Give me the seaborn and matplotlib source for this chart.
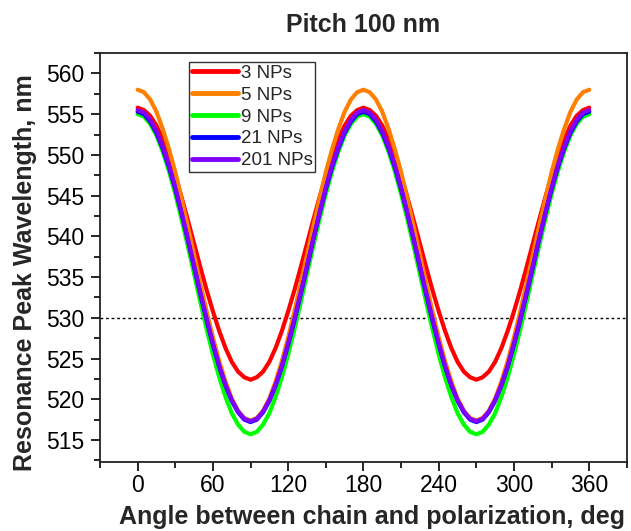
import pandas as pd
import matplotlib
matplotlib.use("Agg")
import matplotlib.pyplot as plt
from matplotlib.ticker import MultipleLocator
import seaborn as sns

# Polarization angle (deg) and resonance peak wavelength (nm) per chain length
angle = list(range(0, 361, 5))

np3 = [555.8, 555.5, 554.8, 553.6, 551.9, 549.8, 547.5, 544.8, 542.0, 539.1, 536.2, 533.4, 530.8, 528.4, 526.3, 524.6, 523.4, 522.7, 522.4,
       522.7, 523.4, 524.6, 526.3, 528.4, 530.8, 533.4, 536.2, 539.1, 542.0, 544.8, 547.5, 549.8, 551.9, 553.6, 554.8, 555.5, 555.8,
       555.5, 554.8, 553.6, 551.9, 549.8, 547.5, 544.8, 542.0, 539.1, 536.2, 533.4, 530.8, 528.4, 526.3, 524.6, 523.4, 522.7, 522.4,
       522.7, 523.4, 524.6, 526.3, 528.4, 530.8, 533.4, 536.2, 539.1, 542.0, 544.8, 547.5, 549.8, 551.9, 553.6, 554.8, 555.5, 555.8]
np5 = [558.0, 557.7, 556.8, 555.3, 553.2, 550.7, 547.9, 544.6, 541.2, 537.7, 534.2, 530.8, 527.6, 524.7, 522.2, 520.1, 518.6, 517.7, 517.4,
       517.7, 518.6, 520.1, 522.2, 524.7, 527.6, 530.8, 534.2, 537.7, 541.2, 544.6, 547.9, 550.7, 553.2, 555.3, 556.8, 557.7, 558.0,
       557.7, 556.8, 555.3, 553.2, 550.7, 547.9, 544.6, 541.2, 537.7, 534.2, 530.8, 527.6, 524.7, 522.2, 520.1, 518.6, 517.7, 517.4,
       517.7, 518.6, 520.1, 522.2, 524.7, 527.6, 530.8, 534.2, 537.7, 541.2, 544.6, 547.9, 550.7, 553.2, 555.3, 556.8, 557.7, 558.0]
np9 = [555.0, 554.7, 553.8, 552.4, 550.4, 548.0, 545.2, 542.1, 538.8, 535.4, 531.9, 528.6, 525.5, 522.7, 520.3, 518.3, 516.9, 516.0, 515.7,
       516.0, 516.9, 518.3, 520.3, 522.7, 525.5, 528.6, 531.9, 535.4, 538.8, 542.1, 545.2, 548.0, 550.4, 552.4, 553.8, 554.7, 555.0,
       554.7, 553.8, 552.4, 550.4, 548.0, 545.2, 542.1, 538.8, 535.4, 531.9, 528.6, 525.5, 522.7, 520.3, 518.3, 516.9, 516.0, 515.7,
       516.0, 516.9, 518.3, 520.3, 522.7, 525.5, 528.6, 531.9, 535.4, 538.8, 542.1, 545.2, 548.0, 550.4, 552.4, 553.8, 554.7, 555.0]
np21 = [555.3, 555.0, 554.1, 552.7, 550.8, 548.5, 545.8, 542.8, 539.6, 536.2, 532.9, 529.7, 526.7, 524.0, 521.7, 519.8, 518.4, 517.5, 517.2,
        517.5, 518.4, 519.8, 521.7, 524.0, 526.7, 529.7, 532.9, 536.2, 539.6, 542.8, 545.8, 548.5, 550.8, 552.7, 554.1, 555.0, 555.3,
        555.0, 554.1, 552.7, 550.8, 548.5, 545.8, 542.8, 539.6, 536.2, 532.9, 529.7, 526.7, 524.0, 521.7, 519.8, 518.4, 517.5, 517.2,
        517.5, 518.4, 519.8, 521.7, 524.0, 526.7, 529.7, 532.9, 536.2, 539.6, 542.8, 545.8, 548.5, 550.8, 552.7, 554.1, 555.0, 555.3]
np201 = [555.5, 555.2, 554.3, 552.9, 551.0, 548.7, 546.0, 542.9, 539.7, 536.4, 533.1, 529.9, 526.9, 524.1, 521.8, 519.9, 518.5, 517.6, 517.3,
         517.6, 518.5, 519.9, 521.8, 524.1, 526.9, 529.9, 533.1, 536.4, 539.7, 542.9, 546.0, 548.7, 551.0, 552.9, 554.3, 555.2, 555.5,
         555.2, 554.3, 552.9, 551.0, 548.7, 546.0, 542.9, 539.7, 536.4, 533.1, 529.9, 526.9, 524.1, 521.8, 519.9, 518.5, 517.6, 517.3,
         517.6, 518.5, 519.9, 521.8, 524.1, 526.9, 529.9, 533.1, 536.4, 539.7, 542.9, 546.0, 548.7, 551.0, 552.9, 554.3, 555.2, 555.5]

labels = ["3 NPs", "5 NPs", "9 NPs", "21 NPs", "201 NPs"]
colors = ["#FF0000", "#FF8000", "#00FF00", "#0000FF", "#8000FF"]
reference_level = 530

frames = []
for lab, vals in zip(labels, [np3, np5, np9, np21, np201]):
    frames.append(pd.DataFrame({"angle": angle, "wl": vals, "chain": lab}))
df = pd.concat(frames, ignore_index=True)

sns.set_style("white")
plt.rcParams["font.family"] = ["Liberation Sans", "DejaVu Sans"]

fig = plt.figure(figsize=(6.31, 5.31), dpi=100)
ax = fig.add_axes([0.1585, 0.130, 0.835, 0.770])

sns.lineplot(data=df, x="angle", y="wl", hue="chain", hue_order=labels,
             palette=colors, linewidth=3, ax=ax, legend=True)

ax.axhline(reference_level, color="black", linestyle=(0, (2, 2)), linewidth=1, zorder=1)

ax.set_xlim(-30, 390)
ax.set_ylim(512.3, 562.5)
ax.xaxis.set_major_locator(MultipleLocator(60))
ax.xaxis.set_minor_locator(MultipleLocator(30))
ax.yaxis.set_major_locator(MultipleLocator(5))
ax.yaxis.set_minor_locator(MultipleLocator(2.5))
ax.tick_params(axis="both", which="major", direction="out", length=6.5, width=1.2,
               labelsize=16.5, bottom=True, left=True, top=False, right=False,
               colors="black")
ax.tick_params(axis="x", which="major", pad=2)
ax.tick_params(axis="y", which="major", pad=5)
ax.tick_params(axis="both", which="minor", direction="out", length=4, width=1.2,
               bottom=True, left=True, top=False, right=False, colors="black")
for s in ax.spines.values():
    s.set_color("#222222")
    s.set_linewidth(1.3)

ax.set_xlabel("Angle between chain and polarization, deg", fontsize=18,
              fontweight="bold")
ax.set_ylabel("Resonance Peak Wavelength, nm", fontsize=18, fontweight="bold")
ax.xaxis.set_label_coords(0.517, -0.106)
ax.yaxis.set_label_coords(-0.12, 0.462)
ax.set_title("Pitch 100 nm", fontsize=18, fontweight="bold", pad=15)

leg = ax.legend(loc="upper left", bbox_to_anchor=(0.169, 0.978), borderaxespad=0,
                fontsize=13.5, frameon=True, fancybox=False, edgecolor="black",
                handlelength=2.45, handletextpad=0.15, labelspacing=0.25,
                borderpad=0.15, title=None)
leg.get_frame().set_linewidth(1.0)
for h in leg.get_lines():
    h.set_linewidth(3.5)

fig.savefig("out.png", dpi=100)
